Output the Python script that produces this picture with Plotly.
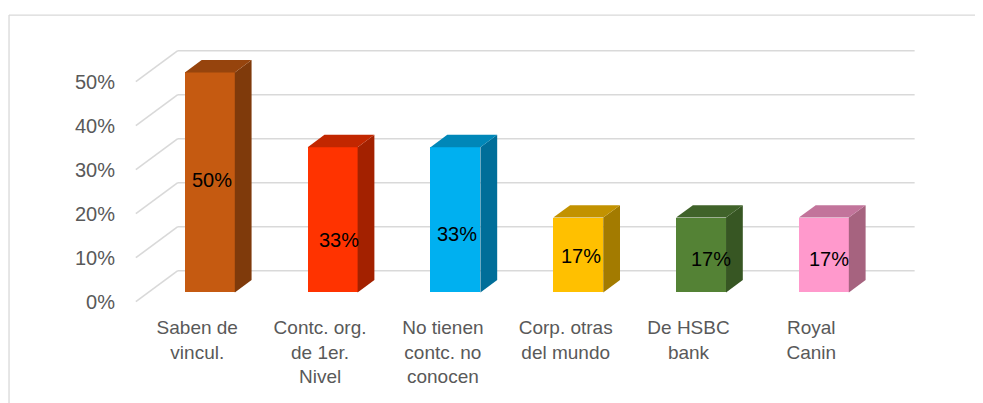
import plotly.graph_objects as go

# ---- data ----
categories = ["Saben de<br>vincul.", "Contc. org.<br>de 1er.<br>Nivel",
              "No tienen<br>contc. no<br>conocen", "Corp. otras<br>del mundo",
              "De HSBC<br>bank", "Royal<br>Canin"]
values = [0.50, 0.33, 0.33, 0.17, 0.17, 0.17]
y_ticks = [0, 0.1, 0.2, 0.3, 0.4, 0.5]
y_tick_labels = ["0%", "10%", "20%", "30%", "40%", "50%"]

# ---- styles ----
front_colors = ["#C55A11", "#FF3300", "#00B0F0", "#FFC000", "#548235", "#FF99CC"]
top_colors = ["#96440D", "#C22700", "#0087B8", "#C29200", "#40632A", "#C2749B"]
side_colors = ["#7F3A0B", "#A32100", "#006E99", "#A37B00", "#375623", "#A6637F"]
label_frac = [0.51, 0.36, 0.40, 0.48, 0.44, 0.45]
label_xshift = [2, 6, 2, 3, 10, 5]

FONT = "Liberation Sans, Arial, sans-serif"
DX, DY = 0.3415, 0.0705      # full depth offset (x units, y units)
Z0, Z1 = 0.3, 0.7            # bar depth start / end fraction
W = 0.4065                   # bar width
GRID = "#D9D9D9"

n = len(categories)
pos = list(range(n))
xmin, xmax = -0.5, n - 0.5

fig = go.Figure()

# back-wall gridlines + side-wall diagonals
shapes = []
for t in y_ticks:
    shapes.append(dict(type="line", xref="x", yref="y", layer="below",
                       x0=xmin, y0=t, x1=xmin + DX, y1=t + DY,
                       line=dict(color=GRID, width=1.6)))
    shapes.append(dict(type="line", xref="x", yref="y", layer="below",
                       x0=xmin + DX, y0=t + DY, x1=xmax + DX, y1=t + DY,
                       line=dict(color=GRID, width=1.6)))
# chart border
shapes.append(dict(type="line", xref="paper", yref="paper", x0=-0.1615, x1=1.2,
                   y0=1.129, y1=1.129, line=dict(color="#D9D9D9", width=1.3)))
shapes.append(dict(type="line", xref="paper", yref="paper", x0=-0.1615, x1=-0.1615,
                   y0=1.129, y1=-0.5, line=dict(color="#D9D9D9", width=1.3)))

# front faces
xf = [p + Z0 * DX for p in pos]
base = Z0 * DY
fig.add_trace(go.Bar(x=xf, y=values, base=base, width=W,
                     marker=dict(color=front_colors, line=dict(width=0)),
                     hoverinfo="skip", showlegend=False))

# side and top faces
ddx, ddy = (Z1 - Z0) * DX, (Z1 - Z0) * DY
for i, v in enumerate(values):
    xl, xr = xf[i] - W / 2, xf[i] + W / 2
    top = base + v
    fig.add_trace(go.Scatter(
        x=[xr, xr + ddx, xr + ddx, xr, xr],
        y=[base, base + ddy, top + ddy, top, base],
        fill="toself", fillcolor=side_colors[i], mode="lines",
        line=dict(width=0), hoverinfo="skip", showlegend=False))
    fig.add_trace(go.Scatter(
        x=[xl, xr, xr + ddx, xl + ddx, xl],
        y=[top, top, top + ddy, top + ddy, top],
        fill="toself", fillcolor=top_colors[i], mode="lines",
        line=dict(width=0), hoverinfo="skip", showlegend=False))

# data labels
annotations = []
for i, v in enumerate(values):
    annotations.append(dict(x=xf[i], y=base + label_frac[i] * v, xref="x", yref="y",
                            text=f"{round(v * 100)}%", showarrow=False,
                            xshift=label_xshift[i],
                            font=dict(family=FONT, size=20, color="#000000")))

# the page body adds an 8px offset; margins compensate for it
fig.update_layout(
    width=983, height=403,
    margin=dict(l=127, r=76, t=40, b=108),
    paper_bgcolor="white", plot_bgcolor="white",
    shapes=shapes, annotations=annotations,
    font=dict(family=FONT, size=20, color="#595959"),
    bargap=0,
)
fig.update_xaxes(range=[-0.507, xmax + DX + 0.003], tickvals=pos, ticktext=categories,
                 showgrid=False, zeroline=False, showline=False,
                 ticks="outside", ticklen=7, tickcolor="rgba(0,0,0,0)",
                 tickfont=dict(family=FONT, size=19, color="#595959"))
fig.update_yaxes(range=[-0.00295, 0.5766], tickvals=y_ticks, ticktext=y_tick_labels,
                 showgrid=False, zeroline=False, showline=False,
                 ticks="outside", ticklen=15, tickcolor="rgba(0,0,0,0)",
                 tickfont=dict(family=FONT, size=20, color="#595959"))

fig.write_html("out.html")
